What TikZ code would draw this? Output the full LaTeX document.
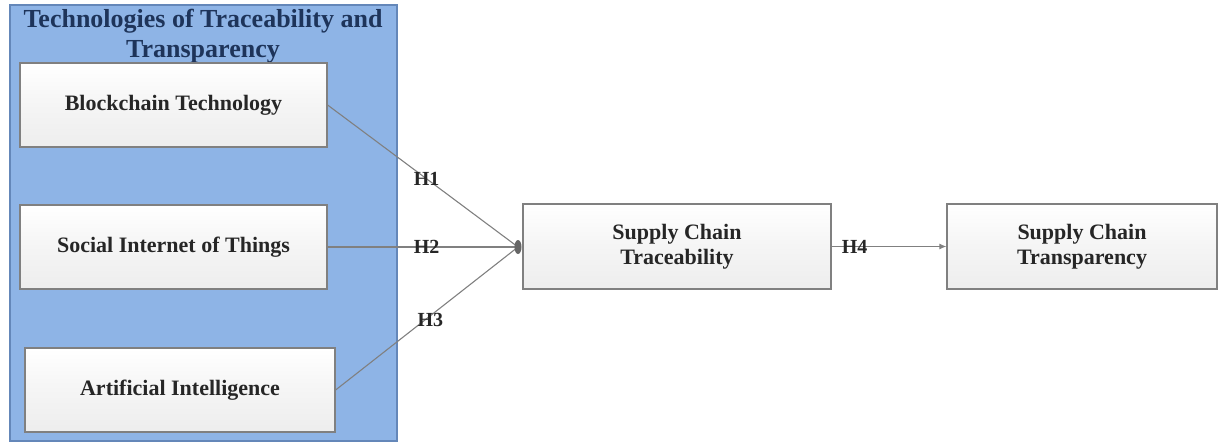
\documentclass[tikz,border=0pt]{standalone}
\usepackage{fontspec}
\setmainfont{Liberation Serif}
\usetikzlibrary{arrows.meta}
\definecolor{panelblue}{RGB}{142,180,230}
\definecolor{paneledge}{RGB}{100,135,185}
\definecolor{titlenavy}{RGB}{30,52,90}
\definecolor{linegray}{RGB}{128,128,128}
\tikzset{
  varbox/.style={draw=linegray, line width=1.2pt, top color=white, bottom color=black!7,
    middle color=black!4, shading angle=0, align=center, inner sep=0pt,
    font=\fontsize{22}{25}\selectfont\bfseries, text=black!85},
  hlabel/.style={font=\fontsize{20}{22}\selectfont\bfseries, text=black!85, inner sep=1pt},
  link/.style={draw=linegray, line width=1.1pt}
}
\begin{document}
\begin{tikzpicture}[x=1pt,y=-1pt]
\useasboundingbox (0,0) rectangle (1229,445);
\node[draw=paneledge, fill=panelblue, line width=1.2pt, minimum width=387pt, minimum height=436pt, inner sep=0pt] (panel) at (203.5,223) {};
\node[font=\fontsize{26}{30}\selectfont\bfseries, text=titlenavy, align=center] (title) at (203,36) {Technologies of Traceability and\\Transparency};
\node[varbox, minimum width=307pt, minimum height=84pt] (bc) at (173.5,105) {Blockchain Technology};
\node[varbox, minimum width=307pt, minimum height=84pt] (siot) at (173.5,247) {Social Internet of Things};
\node[varbox, minimum width=310pt, minimum height=84pt] (ai) at (180,390) {Artificial Intelligence};
\node[varbox, minimum width=308pt, minimum height=85pt] (trace) at (677,246.5) {Supply Chain\\Traceability};
\node[varbox, minimum width=270pt, minimum height=85pt] (trans) at (1082,246.5) {Supply Chain\\Transparency};
\coordinate (j) at (518,247);
\draw[link] (bc.east) -- node[hlabel, pos=0.52] {H1} (j);
\draw[link] (siot.east) -- node[hlabel, pos=0.52] {H2} (j);
\draw[link] (ai.east) -- node[hlabel, pos=0.52, yshift=-4pt] {H3} (j);
\fill[black!60] (j) ellipse (3.5 and 7);
\draw[link, -{Latex[length=7pt,width=6pt]}] (trace.east) -- node[hlabel, pos=0.2] {H4} (trans.west);
\end{tikzpicture}
\end{document}
